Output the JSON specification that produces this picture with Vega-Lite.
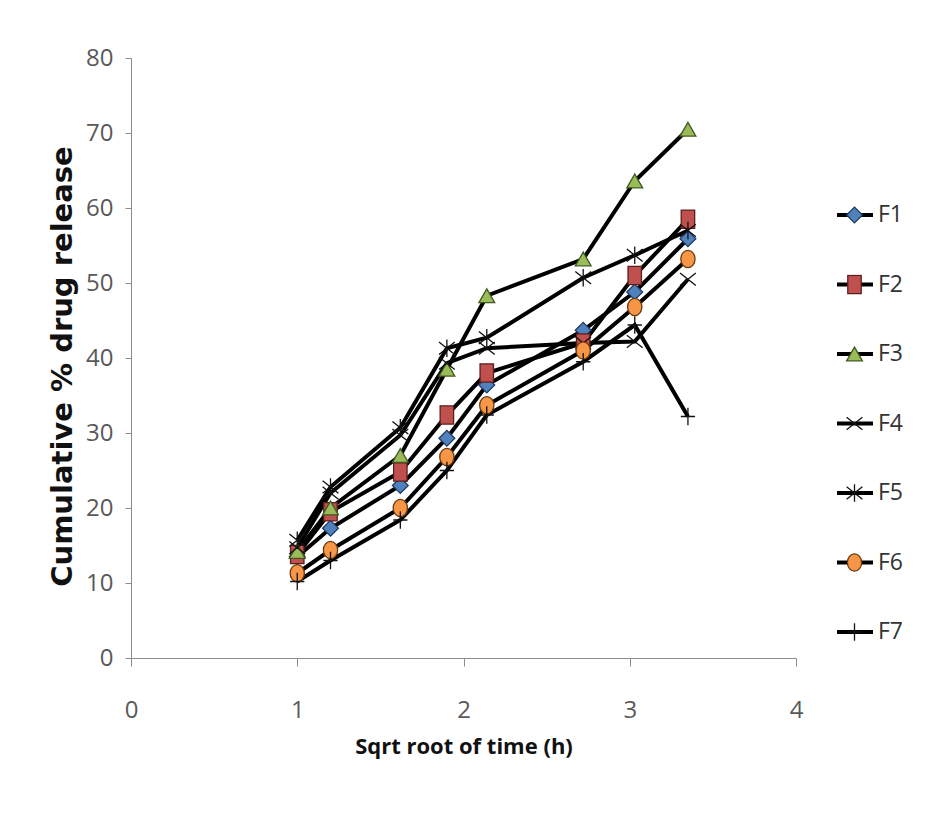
{
  "$schema": "https://vega.github.io/schema/vega-lite/v6.json",
  "width": 665,
  "height": 600,
  "autosize": {"type": "none"},
  "padding": {"left": 131, "top": 58, "right": 140, "bottom": 167},
  "background": "white",
  "config": {
    "view": {"stroke": null},
    "axis": {
      "grid": false,
      "domainColor": "#8c8c8c",
      "tickColor": "#8c8c8c",
      "labelColor": "#595959",
      "labelFont": "Open Sans",
      "labelFontSize": 24,
      "labelFlush": false,
      "titleFont": "Open Sans",
      "titleFontWeight": "bold",
      "titleColor": "#111111"
    }
  },
  "data": {
    "values": [
      {"series": "F1", "x": 1.0, "y": 13.5}, {"series": "F1", "x": 1.2, "y": 17.3}, {"series": "F1", "x": 1.62, "y": 23.0}, {"series": "F1", "x": 1.9, "y": 29.3}, {"series": "F1", "x": 2.14, "y": 36.4}, {"series": "F1", "x": 2.72, "y": 43.7}, {"series": "F1", "x": 3.03, "y": 48.8}, {"series": "F1", "x": 3.35, "y": 55.9},
      {"series": "F2", "x": 1.0, "y": 13.8}, {"series": "F2", "x": 1.2, "y": 19.5}, {"series": "F2", "x": 1.62, "y": 24.8}, {"series": "F2", "x": 1.9, "y": 32.4}, {"series": "F2", "x": 2.14, "y": 38.0}, {"series": "F2", "x": 2.72, "y": 42.0}, {"series": "F2", "x": 3.03, "y": 51.0}, {"series": "F2", "x": 3.35, "y": 58.5},
      {"series": "F3", "x": 1.0, "y": 14.2}, {"series": "F3", "x": 1.2, "y": 20.0}, {"series": "F3", "x": 1.62, "y": 27.0}, {"series": "F3", "x": 1.9, "y": 38.5}, {"series": "F3", "x": 2.14, "y": 48.3}, {"series": "F3", "x": 2.72, "y": 53.2}, {"series": "F3", "x": 3.03, "y": 63.6}, {"series": "F3", "x": 3.35, "y": 70.5},
      {"series": "F4", "x": 1.0, "y": 14.7}, {"series": "F4", "x": 1.2, "y": 22.0}, {"series": "F4", "x": 1.62, "y": 29.7}, {"series": "F4", "x": 1.9, "y": 39.3}, {"series": "F4", "x": 2.14, "y": 41.3}, {"series": "F4", "x": 2.72, "y": 42.0}, {"series": "F4", "x": 3.03, "y": 42.2}, {"series": "F4", "x": 3.35, "y": 50.5},
      {"series": "F5", "x": 1.0, "y": 15.7}, {"series": "F5", "x": 1.2, "y": 22.8}, {"series": "F5", "x": 1.62, "y": 30.7}, {"series": "F5", "x": 1.9, "y": 41.3}, {"series": "F5", "x": 2.14, "y": 42.7}, {"series": "F5", "x": 2.72, "y": 50.7}, {"series": "F5", "x": 3.03, "y": 53.7}, {"series": "F5", "x": 3.35, "y": 57.0},
      {"series": "F6", "x": 1.0, "y": 11.3}, {"series": "F6", "x": 1.2, "y": 14.4}, {"series": "F6", "x": 1.62, "y": 20.0}, {"series": "F6", "x": 1.9, "y": 26.8}, {"series": "F6", "x": 2.14, "y": 33.7}, {"series": "F6", "x": 2.72, "y": 41.0}, {"series": "F6", "x": 3.03, "y": 46.8}, {"series": "F6", "x": 3.35, "y": 53.2},
      {"series": "F7", "x": 1.0, "y": 10.2}, {"series": "F7", "x": 1.2, "y": 13.0}, {"series": "F7", "x": 1.62, "y": 18.4}, {"series": "F7", "x": 1.9, "y": 25.0}, {"series": "F7", "x": 2.14, "y": 32.4}, {"series": "F7", "x": 2.72, "y": 39.5}, {"series": "F7", "x": 3.03, "y": 44.4}, {"series": "F7", "x": 3.35, "y": 32.2}
    ]
  },
  "encoding": {
    "x": {
      "field": "x", "type": "quantitative",
      "scale": {"domain": [0, 4], "nice": false},
      "axis": {"values": [0, 1, 2, 3, 4], "tickSize": 8, "labelPadding": 32, "title": "Sqrt root of time (h)", "titleFontSize": 22, "titlePadding": 14}
    },
    "y": {
      "field": "y", "type": "quantitative",
      "scale": {"domain": [0, 80], "nice": false},
      "axis": {"values": [0, 10, 20, 30, 40, 50, 60, 70, 80], "tickSize": 6, "labelPadding": 12, "title": "Cumulative % drug release", "titleFont": "DejaVu Sans", "titleFontSize": 29, "titlePadding": 8, "titleY": 308}
    }
  },
  "layer": [
    {
      "mark": {"type": "line", "strokeWidth": 4},
      "encoding": {
        "color": {
          "field": "series", "type": "nominal",
          "scale": {"range": ["#000000", "#000000", "#000000", "#000000", "#000000", "#000000", "#000000"]},
          "legend": {
            "title": null, "orient": "none", "legendX": 704, "legendY": 147, "zindex": 0,
            "symbolType": "stroke", "symbolStrokeWidth": 4, "symbolSize": 1296,
            "clipHeight": 20, "rowPadding": 47.5, "padding": 0,
            "labelExpr": "''", "labelFontSize": 22
          }
        }
      }
    },
    {
      "mark": {"type": "point", "filled": true, "opacity": 1, "size": 250, "strokeWidth": 1.3},
      "encoding": {
        "shape": {
          "field": "series", "type": "nominal",
          "scale": {"domain": ["F1", "F2", "F3", "F4", "F5", "F6", "F7"], "range": ["diamond", "M-0.85,-1.15H0.85V1.15H-0.85Z", "triangle-up", "M-1,-0.8L1,0.8M-1,0.8L1,-0.8", "M-1,-0.8L1,0.8M-1,0.8L1,-0.8M0,-1.1L0,1.1", "M-0.9,0A0.9,1.1 0 1,0 0.9,0A0.9,1.1 0 1,0 -0.9,0Z", "M0,-1.1L0,1.1M-0.9,0L0.9,0"]},
          "legend": {
            "title": null, "orient": "none", "legendX": 712, "legendY": 147, "zindex": 1,
            "symbolSize": 250, "symbolStrokeWidth": 1.3,
            "clipHeight": 20, "rowPadding": 46.5, "padding": 0, "labelOffset": 12,
            "labelFont": "Open Sans", "labelFontSize": 23, "labelColor": "#333333"
          }
        },
        "fill": {
          "field": "series", "type": "nominal",
          "scale": {"domain": ["F1", "F2", "F3", "F4", "F5", "F6", "F7"], "range": ["#4F81BD", "#C0504D", "#9BBB59", "#000000", "#000000", "#F79646", "#000000"]}
        },
        "stroke": {
          "field": "series", "type": "nominal",
          "scale": {"domain": ["F1", "F2", "F3", "F4", "F5", "F6", "F7"], "range": ["#1f3b63", "#5a1f1d", "#3f5a20", "#111111", "#111111", "#6b3a10", "#111111"]}
        }
      }
    }
  ]
}
